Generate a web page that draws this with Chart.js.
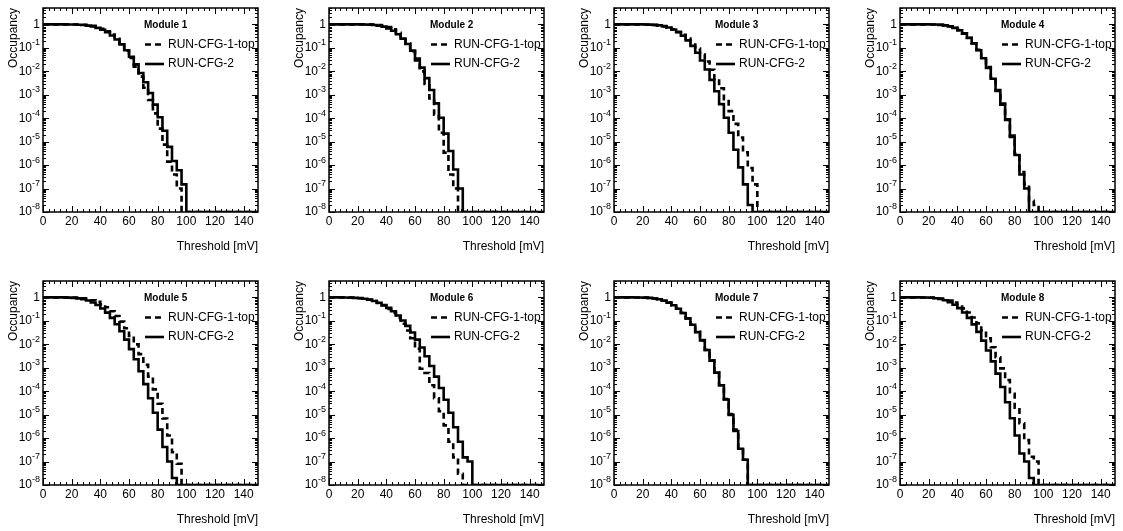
<!DOCTYPE html>
<html>
<head>
<meta charset="utf-8">
<title>Occupancy vs threshold, modules 1-8</title>
<script src="https://cdn.jsdelivr.net/npm/chart.js@4.4.1/dist/chart.umd.min.js"></script>
<style>
  html, body { margin: 0; padding: 0; background: #fff; }
  body { width: 1123px; height: 531px; position: relative; overflow: hidden; }
  canvas { position: absolute; }
</style>
</head>
<body>
<script>
// histogram binning of the threshold scan
const binLow = 0, binHigh = 150, nBins = 45;
const xTickValues = [0, 20, 40, 60, 80, 100, 120, 140];
const yTickExponents = [0, -1, -2, -3, -4, -5, -6, -7, -8];
const yMin = 1e-8, yMax = 5;
const seriesNames = ["RUN-CFG-1-top", "RUN-CFG-2"];
const moduleNames = ["Module 1", "Module 2", "Module 3", "Module 4", "Module 5", "Module 6", "Module 7", "Module 8"];

// occupancy per bin (0 = empty bin)
const m1Top = [1, 1, 1, 1, 0.999, 0.998, 0.995, 0.986, 0.966, 0.929,
  0.866, 0.77, 0.648, 0.508, 0.367, 0.242, 0.142, 0.076, 0.037, 0.0158,
  0.0059, 0.002, 6e-4, 1.6e-4, 3.6e-5, 7.5e-6, 1.4e-6, 4e-7, 1e-7, 0,
  0, 0, 0, 0, 0, 0, 0, 0, 0, 0, 0, 0, 0, 0, 0];
const m1Cfg2 = [1, 1, 1, 0.999, 0.998, 0.994, 0.986, 0.969, 0.938, 0.887,
  0.81, 0.71, 0.59, 0.46, 0.337, 0.227, 0.14, 0.079, 0.042, 0.0197,
  0.0084, 0.0034, 1.18e-3, 3.8e-4, 1.1e-4, 2.9e-5, 6e-6, 1.5e-6, 6e-7, 1.5e-7,
  0, 0, 0, 0, 0, 0, 0, 0, 0, 0, 0, 0, 0, 0, 0];
const m2Top = [1, 1, 1, 1, 1, 1, 1, 0.998, 0.993, 0.979,
  0.945, 0.877, 0.764, 0.614, 0.44, 0.278, 0.154, 0.072, 0.029, 0.0099,
  0.0029, 6.9e-4, 1.4e-4, 2.4e-5, 3.4e-6, 4e-7, 1e-7, 0, 0, 0,
  0, 0, 0, 0, 0, 0, 0, 0, 0, 0, 0, 0, 0, 0, 0];
const m2Cfg2 = [1, 1, 1, 1, 1, 0.999, 0.997, 0.991, 0.976, 0.944,
  0.889, 0.8, 0.677, 0.532, 0.382, 0.248, 0.145, 0.076, 0.035, 0.0143,
  0.0051, 0.0016, 4.3e-4, 1.04e-4, 2.2e-5, 4e-6, 6.5e-7, 1e-7, 0, 0,
  0, 0, 0, 0, 0, 0, 0, 0, 0, 0, 0, 0, 0, 0, 0];
const m3Top = [1, 1, 1, 0.999, 0.998, 0.994, 0.985, 0.969, 0.938, 0.889,
  0.816, 0.722, 0.606, 0.48, 0.359, 0.248, 0.159, 0.093, 0.052, 0.026,
  0.0116, 0.0048, 0.0019, 6.4e-4, 2e-4, 5.7e-5, 1.5e-5, 3.5e-6, 7.5e-7, 1.5e-7,
  0, 0, 0, 0, 0, 0, 0, 0, 0, 0, 0, 0, 0, 0, 0];
const m3Cfg2 = [1, 1, 1, 1, 0.999, 0.998, 0.993, 0.982, 0.957, 0.913,
  0.841, 0.739, 0.606, 0.464, 0.326, 0.209, 0.121, 0.062, 0.0287, 0.0119,
  0.0043, 0.0014, 4e-4, 1.04e-4, 2.4e-5, 4.5e-6, 8e-7, 1.5e-7, 2e-8, 0,
  0, 0, 0, 0, 0, 0, 0, 0, 0, 0, 0, 0, 0, 0, 0];
const m4Top = [1, 1, 1, 1, 1, 0.998, 0.994, 0.984, 0.96, 0.912,
  0.832, 0.716, 0.57, 0.412, 0.27, 0.158, 0.082, 0.038, 0.0152, 0.0052,
  0.0016, 4.2e-4, 9e-5, 1.8e-5, 3e-6, 5e-7, 1.5e-7, 3e-8, 2e-8, 0,
  0, 0, 0, 0, 0, 0, 0, 0, 0, 0, 0, 0, 0, 0, 0];
const m4Cfg2 = [1, 1, 1, 1, 1, 0.998, 0.994, 0.983, 0.958, 0.908,
  0.826, 0.709, 0.563, 0.405, 0.264, 0.154, 0.079, 0.036, 0.0139, 0.0048,
  0.00144, 3.8e-4, 8.5e-5, 1.6e-5, 2.7e-6, 4e-7, 1e-7, 0, 0, 0,
  0, 0, 0, 0, 0, 0, 0, 0, 0, 0, 0, 0, 0, 0, 0];
const m5Top = [1, 1, 1, 0.999, 0.997, 0.991, 0.979, 0.956, 0.915, 0.848,
  0.758, 0.641, 0.508, 0.378, 0.258, 0.161, 0.093, 0.048, 0.0228, 0.0099,
  0.0038, 0.00135, 4.2e-4, 1.2e-4, 2.9e-5, 6.8e-6, 1.3e-6, 2.5e-7, 8e-8, 0,
  0, 0, 0, 0, 0, 0, 0, 0, 0, 0, 0, 0, 0, 0, 0];
const m5Cfg2 = [1, 1, 0.999, 0.997, 0.991, 0.978, 0.953, 0.907, 0.836, 0.736,
  0.61, 0.472, 0.337, 0.224, 0.134, 0.072, 0.036, 0.0158, 0.0062, 0.0023,
  7.1e-4, 2e-4, 5e-5, 1.2e-5, 2.3e-6, 4.2e-7, 1e-7, 2e-8, 0, 0,
  0, 0, 0, 0, 0, 0, 0, 0, 0, 0, 0, 0, 0, 0, 0];
const m6Top = [1, 0.999, 0.998, 0.993, 0.985, 0.966, 0.933, 0.881, 0.802, 0.698,
  0.579, 0.448, 0.323, 0.218, 0.134, 0.075, 0.039, 0.018, 0.0065, 9e-4,
  6e-4, 1.8e-4, 5e-5, 1.4e-5, 3.5e-6, 7e-7, 1.5e-7, 3e-8, 0, 0,
  0, 0, 0, 0, 0, 0, 0, 0, 0, 0, 0, 0, 0, 0, 0];
const m6Cfg2 = [0.999, 0.998, 0.995, 0.99, 0.978, 0.957, 0.922, 0.871, 0.797, 0.702,
  0.591, 0.476, 0.359, 0.255, 0.169, 0.104, 0.061, 0.032, 0.0158, 0.0073,
  0.0031, 0.00118, 4.2e-4, 1.36e-4, 4.3e-5, 1.2e-5, 2.9e-6, 7e-7, 1.5e-7, 1e-7,
  0, 0, 0, 0, 0, 0, 0, 0, 0, 0, 0, 0, 0, 0, 0];
const m7Top = [1, 1, 1, 0.999, 0.996, 0.99, 0.977, 0.95, 0.903, 0.83,
  0.724, 0.601, 0.462, 0.328, 0.217, 0.128, 0.069, 0.034, 0.015, 0.0058,
  0.0021, 6.4e-4, 1.8e-4, 4.6e-5, 1.05e-5, 2.3e-6, 3.8e-7, 1.2e-7, 0, 0,
  0, 0, 0, 0, 0, 0, 0, 0, 0, 0, 0, 0, 0, 0, 0];
const m7Cfg2 = [1, 1, 1, 0.999, 0.996, 0.99, 0.976, 0.949, 0.901, 0.829,
  0.722, 0.599, 0.46, 0.326, 0.215, 0.127, 0.068, 0.033, 0.0146, 0.0057,
  0.002, 6.2e-4, 1.8e-4, 4.4e-5, 9.8e-6, 2e-6, 3.5e-7, 1.2e-7, 0, 0,
  0, 0, 0, 0, 0, 0, 0, 0, 0, 0, 0, 0, 0, 0, 0];
const m8Top = [1, 1, 1, 0.998, 0.996, 0.989, 0.974, 0.946, 0.898, 0.824,
  0.726, 0.603, 0.468, 0.341, 0.227, 0.138, 0.078, 0.039, 0.0179, 0.0075,
  0.0028, 9.4e-4, 3e-4, 7.8e-5, 2e-5, 4.3e-6, 8.2e-7, 1.6e-7, 1e-7, 0,
  0, 0, 0, 0, 0, 0, 0, 0, 0, 0, 0, 0, 0, 0, 0];
const m8Cfg2 = [1, 1, 0.999, 0.998, 0.993, 0.983, 0.961, 0.919, 0.851, 0.752,
  0.626, 0.488, 0.348, 0.227, 0.134, 0.071, 0.034, 0.0143, 0.0054, 0.00187,
  5.6e-4, 1.5e-4, 3.4e-5, 7e-6, 1.3e-6, 2.2e-7, 1e-7, 2e-8, 0, 0,
  0, 0, 0, 0, 0, 0, 0, 0, 0, 0, 0, 0, 0, 0, 0];

const modules = [
  [m1Top, m1Cfg2], [m2Top, m2Cfg2], [m3Top, m3Cfg2], [m4Top, m4Cfg2],
  [m5Top, m5Cfg2], [m6Top, m6Cfg2], [m7Top, m7Cfg2], [m8Top, m8Cfg2],
];

const fontFamily = '"Liberation Sans", Arial, Helvetica, sans-serif';
Chart.defaults.font.family = fontFamily;
Chart.defaults.color = "#000";

// panel placement on the page
const panelLeft = [0, 286, 571, 857];
const panelTop = [0, 273];
const canvasW = 266, canvasH = 256;

// histogram -> step points at the low bin edges, empty bins sit on the frame floor like ROOT
function toSteps(values) {
  const w = (binHigh - binLow) / nBins;
  const pts = values.map((v, i) => ({ x: binLow + i * w, y: v > 0 ? v : yMin }));
  pts.push({ x: binHigh, y: pts[pts.length - 1].y });
  return pts;
}

// ROOT-like frame: inward ticks on all sides, superscript log labels, legend in the pad
const rootFrame = {
  id: "rootFrame",
  afterDraw(chart, args, opts) {
    const { ctx, chartArea: a, scales: { x, y } } = chart;
    ctx.save();
    ctx.strokeStyle = "#000";
    ctx.lineWidth = 1;
    ctx.setLineDash([]);
    ctx.beginPath();
    for (let v = binLow; v <= binHigh; v += 4) {
      const px = Math.round(x.getPixelForValue(v)) + 0.5;
      const len = v % 20 === 0 ? 6 : 3;
      ctx.moveTo(px, a.bottom); ctx.lineTo(px, a.bottom - len);
      ctx.moveTo(px, a.top); ctx.lineTo(px, a.top + len);
    }
    for (const e of yTickExponents) {
      for (let m = 1; m <= 9; m++) {
        const v = m * Math.pow(10, e);
        if (v > yMax) continue;
        const py = Math.round(y.getPixelForValue(v)) + 0.5;
        const len = m === 1 ? 6 : 3;
        ctx.moveTo(a.left, py); ctx.lineTo(a.left + len, py);
        ctx.moveTo(a.right, py); ctx.lineTo(a.right - len, py);
      }
    }
    ctx.stroke();
    ctx.lineWidth = 1.5;
    ctx.strokeRect(a.left, a.top, a.right - a.left, a.bottom - a.top);

    // y labels: 1, 10^-1 ... 10^-8
    ctx.fillStyle = "#000";
    ctx.textBaseline = "middle";
    ctx.textAlign = "right";
    const xr = a.left - 3;
    for (const e of yTickExponents) {
      const py = y.getPixelForValue(Math.pow(10, e));
      ctx.font = `12px ${fontFamily}`;
      if (e === 0) { ctx.fillText("1", xr, py); continue; }
      const sup = String(e);
      ctx.font = `9px ${fontFamily}`;
      const sw = ctx.measureText(sup).width;
      ctx.fillText(sup, xr, py - 5);
      ctx.font = `12px ${fontFamily}`;
      ctx.fillText("10", xr - sw, py);
    }

    // legend
    const lx = a.left + 101;
    ctx.textAlign = "left";
    ctx.font = `bold 10px ${fontFamily}`;
    ctx.fillText(opts.title, lx, a.top + 17);
    chart.data.datasets.forEach((ds, i) => {
      const ly = a.top + 36.5 + 19.5 * i;
      ctx.beginPath();
      ctx.lineWidth = ds.borderWidth;
      ctx.setLineDash(ds.borderDash || []);
      ctx.moveTo(lx + 1, ly);
      ctx.lineTo(lx + 20, ly);
      ctx.stroke();
      ctx.setLineDash([]);
      ctx.font = `12px ${fontFamily}`;
      ctx.fillText(ds.label, lx + 24, ly);
    });
    ctx.restore();
  },
};

modules.forEach(([top, cfg2], idx) => {
  const canvas = document.createElement("canvas");
  canvas.width = canvasW;
  canvas.height = canvasH;
  canvas.style.left = panelLeft[idx % 4] + "px";
  canvas.style.top = panelTop[Math.floor(idx / 4)] + "px";
  document.body.appendChild(canvas);

  new Chart(canvas, {
    type: "line",
    data: {
      datasets: [
        {
          label: seriesNames[0],
          data: toSteps(top),
          stepped: "before",
          borderColor: "#000",
          borderWidth: 2.6,
          borderDash: [6, 4],
          borderJoinStyle: "miter",
          pointRadius: 0,
          fill: false,
        },
        {
          label: seriesNames[1],
          data: toSteps(cfg2),
          stepped: "before",
          borderColor: "#000",
          borderWidth: 2.6,
          borderJoinStyle: "miter",
          pointRadius: 0,
          fill: false,
        },
      ],
    },
    options: {
      responsive: false,
      animation: false,
      events: [],
      layout: { padding: { top: 8, right: 8, bottom: 0, left: 0 } },
      scales: {
        x: {
          type: "linear",
          min: binLow,
          max: binHigh,
          grid: { display: false, drawTicks: false },
          border: { display: false },
          afterBuildTicks: (s) => { s.ticks = xTickValues.map((v) => ({ value: v })); },
          ticks: { color: "#000", font: { size: 12 }, padding: 2, maxRotation: 0, autoSkip: false },
          title: { display: true, text: "Threshold [mV]", align: "end", color: "#000", font: { size: 12 }, padding: { top: 0, bottom: 2 } },
          afterFit: (s) => { s.height = 44; },
        },
        y: {
          type: "logarithmic",
          min: yMin,
          max: yMax,
          grid: { display: false, drawTicks: false },
          border: { display: false },
          ticks: { display: false },
          title: { display: true, text: "Occupancy", align: "end", color: "#000", font: { size: 12 }, padding: { top: 6, bottom: 0 } },
          afterFit: (s) => { s.width = 43; },
        },
      },
      plugins: {
        legend: { display: false },
        tooltip: { enabled: false },
        rootFrame: { title: moduleNames[idx] },
      },
    },
    plugins: [rootFrame],
  });
});
</script>
</body>
</html>
